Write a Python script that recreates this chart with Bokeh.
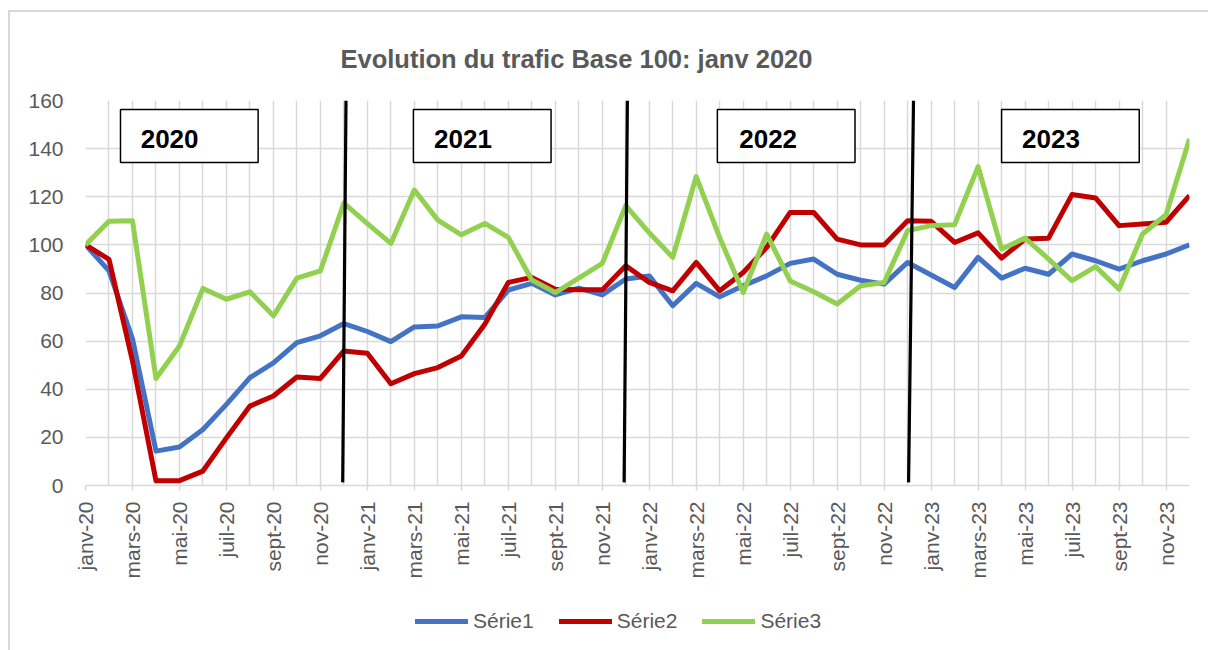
from bokeh.plotting import figure
from bokeh.layouts import column
from bokeh.models import (Range1d, FixedTicker, Legend, LegendItem)
from bokeh.core.properties import value
from bokeh.embed import file_html
from bokeh.resources import INLINE

# ---------------- data ----------------
month_names = ["janv", "févr", "mars", "avr", "mai", "juin",
               "juil", "août", "sept", "oct", "nov", "déc"]
years = ["20", "21", "22", "23"]
months = [f"{m}-{y}" for y in years for m in month_names]

serie1 = [100, 89.2, 61, 14.3, 16, 23.3, 33.7, 44.8, 51, 59.4, 62.2, 67.3,
          64, 59.8, 65.9, 66.3, 70.1, 69.8, 81.2, 84, 79.2, 82, 79.2, 85.8,
          87.1, 74.7, 84, 78.4, 83, 87.1, 92.3, 94.1, 87.8, 85.3, 83.7, 92.7,
          87.5, 82.3, 94.8, 86.2, 90.3, 87.8, 96.2, 93.4, 89.9, 93.4, 96.2, 100]
serie2 = [100, 94, 51.8, 2, 2, 6, 19.8, 33, 37.2, 45.1, 44.5, 55.9,
          55, 42.3, 46.5, 49, 53.8, 67, 84.4, 86.5, 81.6, 81.3, 81.3, 91.3,
          84.4, 80.9, 92.7, 80.9, 88.5, 99, 113.5, 113.5, 102.4, 100, 100, 110,
          109.8, 101, 105, 94.5, 102.4, 102.8, 120.9, 119.5, 108, 108.7, 109.4, 120.5]
serie3 = [100, 109.8, 110, 44.5, 58, 81.9, 77.4, 80.5, 70.5, 86.2, 89.2, 117.4,
          108.8, 100.6, 122.8, 110.3, 104.2, 108.9, 103.1, 85.4, 80.2, 86.2, 92.3, 116.3,
          105, 94.8, 128.4, 103, 80.2, 104.5, 85, 80.5, 75.4, 83, 84.4, 105.9,
          108, 108.4, 132.5, 98.3, 102.8, 94.1, 85.1, 91, 81.6, 104.5, 112.5, 144]
series_names = ["Série1", "Série2", "Série3"]
year_labels = ["2020", "2021", "2022", "2023"]
title_text = "Evolution du trafic Base 100: janv 2020"

# ---------------- annotation geometry (hand-drawn shapes in the original) ----------------
divider_top_x = [11.09, 23.07, 35.25]
divider_bot_x = [10.95, 22.93, 35.04]
divider_top_y = 160
divider_bot_y = 1.3
box_left = [1.49, 13.96, 26.9, 39.0]
box_width = 5.86
box_top = 156.3
box_bottom = 134.2
text_left = [2.35, 14.84, 27.83, 39.87]
text_y = 144.2

colors = ["#4472C4", "#C00000", "#92D050"]
FONT = "Liberation Sans"
GRAY = "#595959"
GRID = "#d9d9d9"

x = list(range(len(months)))
all_series = [serie1, serie2, serie3]

p = figure(width=1198, height=578, output_backend="svg", toolbar_location=None,
           x_range=Range1d(0, len(months) - 1), y_range=Range1d(0, 160),
           min_border_left=75, min_border_right=19, min_border_top=88,
           min_border_bottom=105)
p.background_fill_color = "white"
p.border_fill_color = "white"
p.outline_line_color = None

# title
p.title.text = title_text
p.title.text_font = FONT
p.title.text_font_size = "25.5px"
p.title.text_font_style = "bold"
p.title.text_color = GRAY
p.title.align = "left"
p.title.offset = 255
p.title.standoff = 55

# grids
p.xgrid.ticker = FixedTicker(ticks=x)
p.xgrid.grid_line_color = GRID
p.xgrid.grid_line_width = 1.5
p.ygrid.ticker = FixedTicker(ticks=list(range(0, 161, 20)))
p.ygrid.grid_line_color = GRID
p.ygrid.grid_line_width = 1.5

# x axis
p.xaxis.ticker = FixedTicker(ticks=x[::2])
p.xaxis.major_label_overrides = {i: months[i] for i in x}
p.xaxis.major_label_orientation = 3.14159265 / 2
p.xaxis.major_label_text_font = FONT
p.xaxis.major_label_text_font_size = "21px"
p.xaxis.major_label_text_color = GRAY
p.xaxis.axis_line_color = GRID
p.xaxis.axis_line_width = 1.5
p.xaxis.major_tick_line_color = GRID
p.xaxis.major_tick_line_width = 1.5
p.xaxis.major_tick_out = 5
p.xaxis.major_tick_in = 0
p.xaxis.minor_tick_line_color = None
p.xaxis.major_label_standoff = 11

# y axis
p.yaxis.ticker = FixedTicker(ticks=list(range(0, 161, 20)))
p.yaxis.major_label_text_font = FONT
p.yaxis.major_label_text_font_size = "21px"
p.yaxis.major_label_text_color = GRAY
p.yaxis.axis_line_color = None
p.yaxis.major_tick_line_color = None
p.yaxis.minor_tick_line_color = None
p.yaxis.major_tick_out = 0
p.yaxis.major_label_standoff = 22

# series
for name, ys, c in zip(series_names, all_series, colors):
    p.line(x, ys, line_color=c, line_width=5, line_join="round")

# dividers
p.segment(x0=divider_top_x, y0=[divider_top_y] * 3, x1=divider_bot_x,
          y1=[divider_bot_y] * 3, line_color="black", line_width=3.2)

# year boxes
p.quad(left=box_left, right=[b + box_width for b in box_left],
       top=[box_top] * 4, bottom=[box_bottom] * 4,
       fill_color="white", line_color="black", line_width=1.5)
p.text(x=text_left, y=[text_y] * 4, text=year_labels, text_font=value(FONT),
       text_font_size="26px", text_font_style="bold", text_color="black",
       text_align="left", text_baseline="middle")

# legend strip (separate figure below the chart; its own series copies are
# kept out of view so that only the legend shows)
pl = figure(width=1198, height=60, output_backend="svg", toolbar_location=None,
            x_range=Range1d(0, len(months) - 1), y_range=Range1d(1000, 1060),
            x_axis_type=None, y_axis_type=None,
            min_border_left=0, min_border_right=0, min_border_top=0,
            min_border_bottom=0)
pl.outline_line_color = None
pl.xgrid.visible = False
pl.ygrid.visible = False
pl.background_fill_color = "white"
pl.border_fill_color = "white"
items = []
for name, ys, c in zip(series_names, all_series, colors):
    r = pl.line(x, ys, line_color=c, line_width=5, line_cap="round")
    items.append(LegendItem(label=name, renderers=[r]))
legend = Legend(items=items, orientation="horizontal", location=(330, 17),
                label_text_font=FONT, label_text_font_size="21px",
                label_text_color=GRAY, glyph_width=53, glyph_height=22,
                label_standoff=5, spacing=25, padding=0, margin=0,
                border_line_alpha=0, background_fill_alpha=0)
pl.add_layout(legend, "center")

layout = column(p, pl, styles={"margin-left": "8px", "margin-top": "10px",
                               "border-left": "2px solid #d9d9d9",
                               "border-top": "2px solid #d9d9d9"})

open("out.html", "w").write(file_html(layout, INLINE))
